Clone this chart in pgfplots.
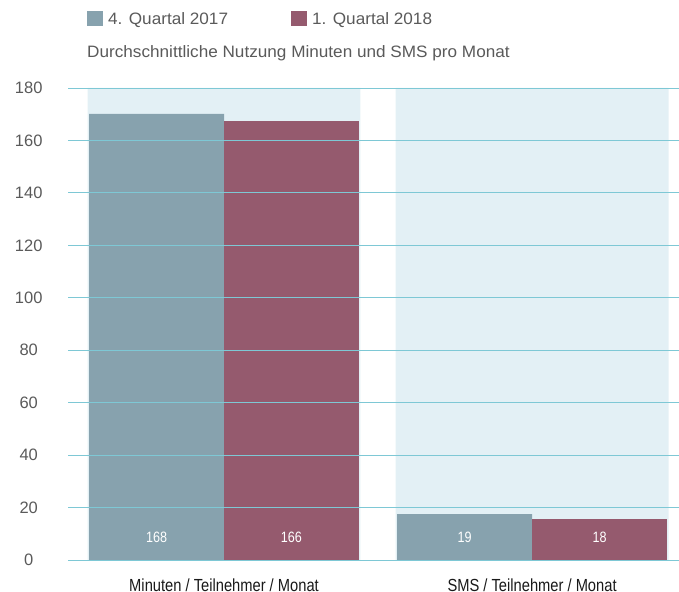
\documentclass[border=0pt]{standalone}
\usepackage{fontspec}
\setmainfont{Liberation Sans}
\newfontfamily\condfont[FakeStretch=0.84]{Liberation Sans}
\newfontfamily\widefont[FakeStretch=1.04]{Liberation Sans}
\usepackage{pgfplots}
\pgfplotsset{compat=1.18}
\definecolor{barA}{HTML}{87A2AE}
\definecolor{barB}{HTML}{955A6E}
\definecolor{band}{HTML}{E3F0F5}
\definecolor{gridc}{HTML}{7EC8D5}
\definecolor{txt}{HTML}{5A5A5A}
\begin{document}
\begin{tikzpicture}
\begin{axis}[
  at={(68bp,32bp)}, anchor=south west,
  width=611bp, height=472bp, scale only axis,
  xmin=-0.5065, xmax=1.477, ymin=0, ymax=180,
  axis on top,
  axis line style={draw=none}, tick style={draw=none},
  ymajorgrids, grid style={gridc, line width=0.9bp},
  ytick={0,20,...,180},
  xtick={0,1},
  xticklabels={Minuten / Teilnehmer / Monat, SMS / Teilnehmer / Monat},
  /pgf/number format/assume math mode=true,
  yticklabel style={anchor=center, inner sep=0pt, xshift=-39.3bp, font=\fontsize{16.5bp}{19bp}\selectfont, text=txt},
  xticklabel style={anchor=base, inner sep=0pt, yshift=-26.8bp, font=\condfont\fontsize{17.5bp}{20bp}\selectfont, text=black!90},
  ybar, bar shift=0pt,
]
\addplot[fill=band, draw=none, bar width=0.886, forget plot] coordinates {(0,180) (1,180)};
\addplot[fill=barA, draw=none, bar width=0.438] coordinates {(-0.219,170.1) (0.781,17.5)};
\addplot[fill=barB, draw=none, bar width=0.438] coordinates {(0.219,167.4) (1.219,15.6)};
\begin{scope}[every node/.style={anchor=base, inner sep=0pt, text=white, font=\condfont\fontsize{15bp}{18bp}\selectfont}]
\node at (axis cs:-0.219,6.75) {168};
\node at (axis cs:0.219,6.75) {166};
\node at (axis cs:0.781,6.75) {19};
\node at (axis cs:1.219,6.75) {18};
\end{scope}
\end{axis}
\fill[barA] (87.3bp,566bp) rectangle (102.7bp,581bp);
\node[anchor=base west, inner sep=0pt, text=txt, font=\widefont\fontsize{16.5bp}{19bp}\selectfont] at (108bp,567.7bp) {4. Quartal 2017};
\fill[barB] (291bp,566bp) rectangle (306.7bp,581bp);
\node[anchor=base west, inner sep=0pt, text=txt, font=\widefont\fontsize{16.5bp}{19bp}\selectfont] at (312bp,567.7bp) {1. Quartal 2018};
\node[anchor=base west, inner sep=0pt, text=txt, font=\widefont\fontsize{16.5bp}{19bp}\selectfont] at (87bp,534.7bp) {Durchschnittliche Nutzung Minuten und SMS pro Monat};
\pgfresetboundingbox
\path (0,0) rectangle (679bp,592bp);
\end{tikzpicture}
\end{document}
